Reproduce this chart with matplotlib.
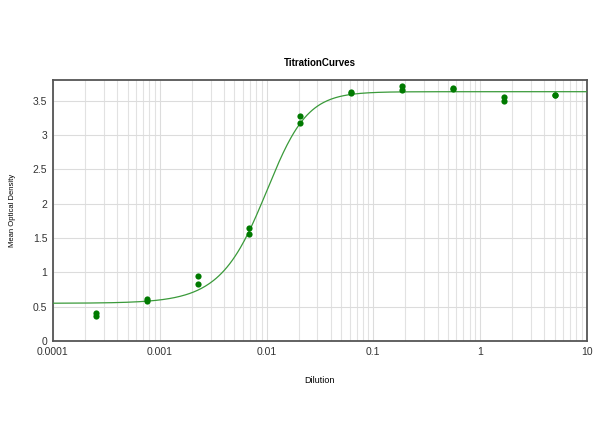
import numpy as np
import matplotlib
matplotlib.use("Agg")
import matplotlib.pyplot as plt
from matplotlib.ticker import FixedLocator, LogLocator, NullFormatter

plt.rcParams['font.family'] = ['Liberation Sans', 'DejaVu Sans']

# ---------------- DATA ----------------
dilution = [0.000254, 0.000762, 0.00229, 0.00686, 0.0206, 0.0617, 0.185, 0.556, 1.667, 5.0]
od_rep1 = [0.41, 0.61, 0.95, 1.65, 3.28, 3.62, 3.72, 3.68, 3.55, 3.58]
od_rep2 = [0.37, 0.58, 0.83, 1.56, 3.18, 3.61, 3.66, 3.67, 3.50, 3.58]

# fitted curve parameters (5PL)
fit_bottom = 0.55
fit_top = 3.63
fit_c = 0.0118
fit_hill = 2.4
fit_asym = 0.7

x_ticks = [0.0001, 0.001, 0.01, 0.1, 1, 10]
x_labels = ["0.0001", "0.001", "0.01", "0.1", "1", "10"]
y_ticks = [0, 0.5, 1, 1.5, 2, 2.5, 3, 3.5]
y_labels = ["0", "0.5", "1", "1.5", "2", "2.5", "3", "3.5"]

# ---------------- PLOT ----------------
fig = plt.figure(figsize=(6.0, 4.47), dpi=100)
ax = fig.add_axes([0.0883, 0.237, 0.8897, 0.584])

xs = np.logspace(-4, 1, 400)
ys = fit_bottom + (fit_top - fit_bottom) / (1 + (fit_c / xs) ** fit_hill) ** fit_asym
ax.plot(xs, ys, color="#3a9a3a", lw=0.9, zorder=3)

ax.scatter(dilution, od_rep1, s=20, color="#007a00", zorder=4, linewidths=0)
ax.scatter(dilution, od_rep2, s=20, color="#007a00", zorder=4, linewidths=0)

ax.set_xscale("log")
ax.set_xlim(0.0001, 10)
ax.set_ylim(0, 3.8)

ax.xaxis.set_major_locator(FixedLocator(x_ticks))
ax.set_xticklabels(x_labels)
ax.xaxis.set_minor_locator(LogLocator(base=10, subs=np.arange(2, 10)))
ax.xaxis.set_minor_formatter(NullFormatter())
ax.set_yticks(y_ticks)
ax.set_yticklabels(y_labels)

ax.grid(True, which="major", color="#dcdcdc", lw=0.8)
ax.grid(True, which="minor", axis="x", color="#e2e2e2", lw=0.8)
ax.set_axisbelow(True)

ax.tick_params(which="both", length=0, labelsize=7.5, colors="#333333", pad=4)
for sp in ax.spines.values():
    sp.set_color("#555555")
    sp.set_linewidth(1.3)

ax.set_title("TitrationCurves", fontsize=7, fontweight="bold", pad=10)
ax.set_xlabel("Dilution", fontsize=6.5, labelpad=14)
ax.set_ylabel("Mean Optical Density", fontsize=5.5)
ax.yaxis.set_label_coords(-0.07, 0.5)

fig.savefig("out.png", dpi=100, facecolor="white")
